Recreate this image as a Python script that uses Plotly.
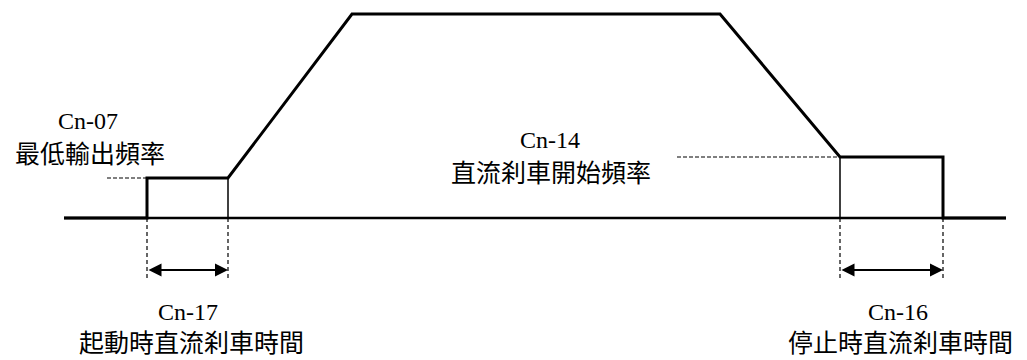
import plotly.graph_objects as go

# frequency profile (time units ~ horizontal position, freq units ~ height above baseline)
t_profile = [64, 147, 147, 228, 352, 720, 840, 943, 943, 1006]
f_profile = [0, 0, 40, 40, 204, 204, 61, 61, 0, 0]

t_base = [64, 1006]
f_base = [0, 0]

# dc brake windows (start, end)
start_brake = [147, 228]
stop_brake = [840, 943]
f_min = 40      # Cn-07
f_dc = 61       # Cn-14
guide_low = -62
arrow_f = -52

labels_code = ["Cn-07", "Cn-14", "Cn-17", "Cn-16"]
labels_name = ["最低輸出頻率", "直流刹車開始頻率", "起動時直流刹車時間", "停止時直流刹車時間"]
label_t = [88, 550, 188, 898]
label_t_name = [90, 551, 191, 900]
label_f_code = [97, 78, -94, -94]
label_f_name = [66, 47, -123, -123]

latin = "Liberation Serif, serif"
cjk = "Noto Sans CJK TC, serif"

fig = go.Figure()
fig.add_scatter(x=t_base, y=f_base, mode="lines", line=dict(color="black", width=2.5))
fig.add_scatter(x=t_profile, y=f_profile, mode="lines", line=dict(color="black", width=3))
# thin verticals at end of start brake / start of stop brake
fig.add_scatter(x=[start_brake[1], start_brake[1], None, stop_brake[0], stop_brake[0]],
                y=[0, f_min, None, 0, f_dc], mode="lines", line=dict(color="black", width=1.5))
# dashed guides
for tt in start_brake + stop_brake:
    fig.add_scatter(x=[tt, tt], y=[0, guide_low], mode="lines",
                    line=dict(color="black", width=1.2, dash="4px,3px"))
fig.add_scatter(x=[107, start_brake[0]], y=[f_min, f_min], mode="lines",
                line=dict(color="black", width=1.2, dash="4px,2px"))
fig.add_scatter(x=[677, stop_brake[0]], y=[f_dc, f_dc], mode="lines",
                line=dict(color="black", width=1.2, dash="4px,2px"))

# double-headed arrows
for a, b in [start_brake, stop_brake]:
    fig.add_annotation(x=b, y=arrow_f, ax=a, ay=arrow_f, xref="x", yref="y",
                       axref="x", ayref="y", text="", showarrow=True,
                       arrowhead=2, startarrowhead=2, arrowside="end+start",
                       arrowsize=1.3, startarrowsize=1.3, arrowwidth=2, arrowcolor="black")

for i in range(4):
    fig.add_annotation(x=label_t[i], y=label_f_code[i], text=labels_code[i], showarrow=False,
                       font=dict(family=latin, size=24, color="black"), borderpad=0)
    fig.add_annotation(x=label_t_name[i], y=label_f_name[i], text=labels_name[i], showarrow=False,
                       font=dict(family=cjk, size=25, color="black"), borderpad=0)

# page body has an 8px margin, so the figure is shrunk/offset to line up with the window
fig.update_layout(
    width=1019, height=352, margin=dict(l=0, r=0, t=0, b=0),
    plot_bgcolor="white", paper_bgcolor="white", showlegend=False,
    xaxis=dict(range=[8, 1027], visible=False),
    yaxis=dict(range=[-142, 210], visible=False),
)

fig.write_html("out.html")
